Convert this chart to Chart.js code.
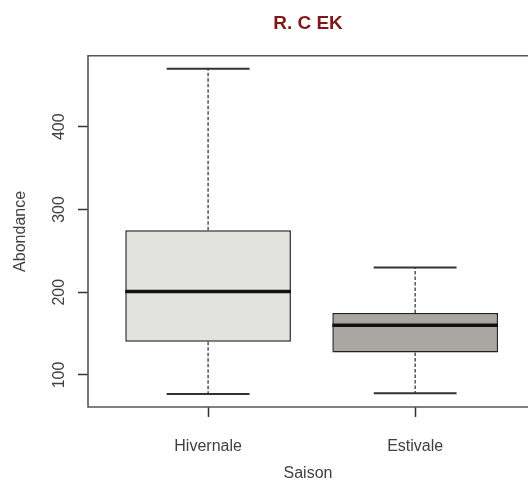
<!DOCTYPE html>
<html>
<head>
<meta charset="utf-8">
<script src="https://cdn.jsdelivr.net/npm/chart.js@4"></script>
<style>
  html, body { margin: 0; padding: 0; background: #fff; overflow: hidden; }
  #wrap { width: 528px; height: 480px; }
</style>
</head>
<body>
<div id="wrap"><canvas id="boxChart"></canvas></div>
<script>
// Abondance par saison (boxplot R. C EK)
const saisons = ['Hivernale', 'Estivale'];
const minima = [77, 78];
const q1 = [140, 127];
const medianes = [201, 160];
const q3 = [275, 175];
const maxima = [470, 230];
const yTicks = [100, 200, 300, 400];

const fills = ['#e2e2de', '#aaa7a2'];
const fontFamily = "'Liberation Sans', Arial, sans-serif";
const textColor = '#404040';

// limites comme R : étendue + 4 %
const lo = Math.min(...minima);
const hi = Math.max(...maxima);
const ext = (hi - lo) * 0.04;

// moustaches, caps et médianes dessinées par-dessus les boîtes
const boxPlugin = {
    id: 'boxDetails',
    afterDatasetsDraw(chart) {
        const { ctx, scales: { x, y } } = chart;
        const bars = chart.getDatasetMeta(0).data;
        ctx.save();
        saisons.forEach((s, i) => {
            const cx = x.getPixelForValue(i + 1);
            const half = bars[i].width / 2;
            const capL = cx - half / 2;
            const capR = cx + half / 2;

            // moustaches en pointillés
            ctx.setLineDash([3.5, 2]);
            ctx.lineWidth = 1.3;
            ctx.strokeStyle = '#3a3a3a';
            ctx.beginPath();
            ctx.moveTo(cx, y.getPixelForValue(q3[i]));
            ctx.lineTo(cx, y.getPixelForValue(maxima[i]));
            ctx.moveTo(cx, y.getPixelForValue(q1[i]));
            ctx.lineTo(cx, y.getPixelForValue(minima[i]));
            ctx.stroke();

            // caps
            ctx.setLineDash([]);
            ctx.lineWidth = 2;
            ctx.strokeStyle = '#333333';
            ctx.beginPath();
            ctx.moveTo(capL, y.getPixelForValue(maxima[i]));
            ctx.lineTo(capR, y.getPixelForValue(maxima[i]));
            ctx.moveTo(capL, y.getPixelForValue(minima[i]));
            ctx.lineTo(capR, y.getPixelForValue(minima[i]));
            ctx.stroke();

            // médiane
            ctx.lineWidth = 3.5;
            ctx.strokeStyle = '#111111';
            ctx.beginPath();
            ctx.moveTo(cx - half, y.getPixelForValue(medianes[i]));
            ctx.lineTo(cx + half, y.getPixelForValue(medianes[i]));
            ctx.stroke();
        });
        ctx.restore();
    }
};

// cadre du graphique (le bord droit sort de l'image)
const framePlugin = {
    id: 'frame',
    afterDraw(chart) {
        const { ctx, chartArea: a } = chart;
        ctx.save();
        ctx.strokeStyle = '#555555';
        ctx.lineWidth = 1.6;
        ctx.beginPath();
        ctx.moveTo(a.right + 2, a.top);
        ctx.lineTo(a.left, a.top);
        ctx.lineTo(a.left, a.bottom);
        ctx.lineTo(a.right + 2, a.bottom);
        ctx.stroke();
        ctx.restore();
    }
};

const axisGrid = {
    drawOnChartArea: false,
    drawTicks: true,
    tickLength: 10,
    tickColor: '#333333',
    tickWidth: 1.5,
    offset: false
};

new Chart(document.getElementById('boxChart'), {
    type: 'bar',
    data: {
        datasets: [{
            data: saisons.map((s, i) => ({ x: i + 1, y: [q1[i], q3[i]] })),
            backgroundColor: fills,
            borderColor: '#222222',
            borderWidth: 1.5,
            borderSkipped: false,
            barPercentage: 0.8,
            categoryPercentage: 1
        }]
    },
    options: {
        responsive: true,
        maintainAspectRatio: false,
        animation: false,
        layout: { padding: 0 },
        plugins: {
            legend: { display: false },
            tooltip: { enabled: false },
            title: {
                display: true,
                text: 'R. C EK',
                color: '#801818',
                fullSize: false,
                font: { family: fontFamily, size: 19, weight: 'bold', lineHeight: 1.2 },
                padding: { top: 12, bottom: 21 }
            }
        },
        scales: {
            x: {
                type: 'linear',
                min: 0.42,
                max: 2.545,
                offset: false,
                afterBuildTicks: sc => { sc.ticks = saisons.map((s, i) => ({ value: i + 1 })); },
                afterFit: sc => { sc.height = 73; },
                ticks: {
                    autoSkip: false,
                    maxRotation: 0,
                    padding: 20,
                    color: textColor,
                    font: { family: fontFamily, size: 16 },
                    callback: v => saisons[v - 1]
                },
                grid: axisGrid,
                border: { display: false },
                title: {
                    display: true,
                    text: 'Saison',
                    color: textColor,
                    padding: 0,
                    font: { family: fontFamily, size: 16, lineHeight: 0.8 }
                }
            },
            y: {
                min: lo - ext,
                max: hi + ext,
                afterBuildTicks: sc => { sc.ticks = yTicks.map(v => ({ value: v })); },
                afterFit: sc => { sc.width = 88; },
                ticks: {
                    minRotation: 90,
                    maxRotation: 90,
                    crossAlign: 'center',
                    padding: 5,
                    color: textColor,
                    font: { family: fontFamily, size: 16 }
                },
                grid: axisGrid,
                border: { display: false },
                title: {
                    display: true,
                    text: 'Abondance',
                    color: textColor,
                    padding: { top: 11, bottom: 0 },
                    font: { family: fontFamily, size: 16, lineHeight: 1.2 }
                }
            }
        }
    },
    plugins: [boxPlugin, framePlugin]
});
</script>
</body>
</html>
